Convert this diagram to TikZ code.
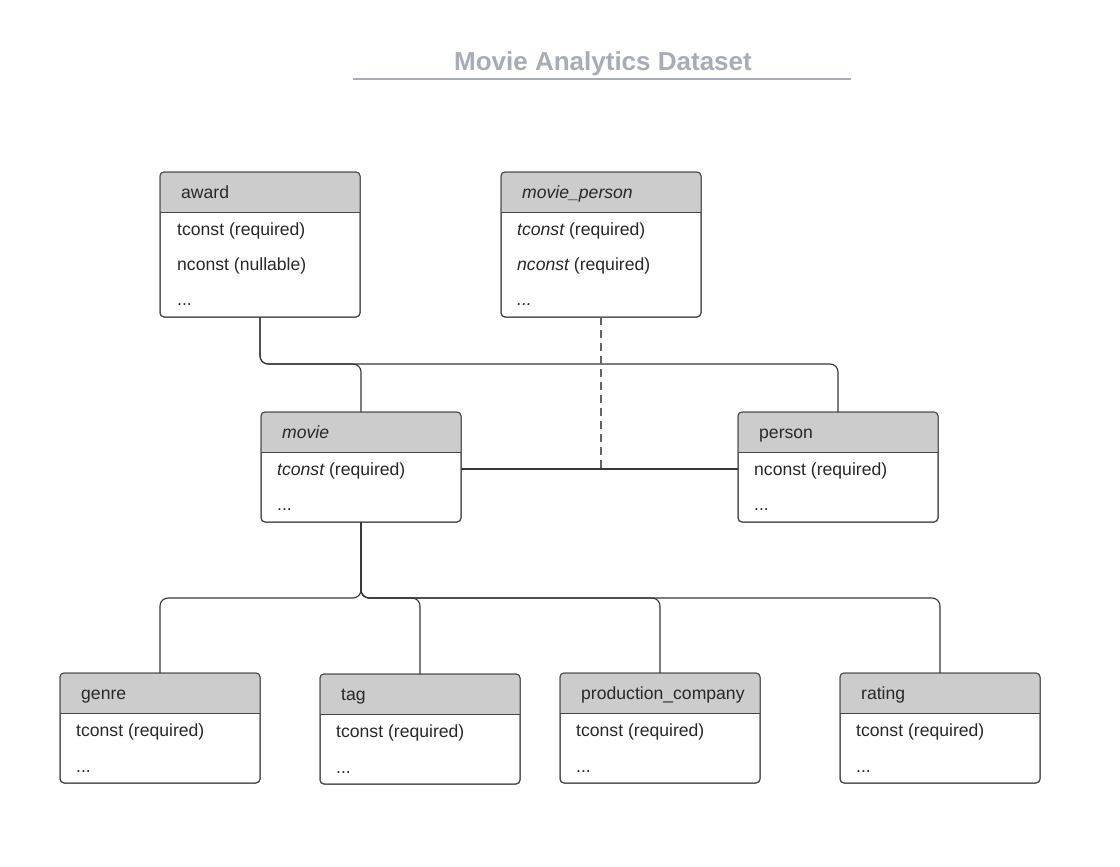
\documentclass[tikz,border=0pt]{standalone}
\usepackage{fontspec}
\setmainfont{Liberation Sans}
\begin{document}
\begin{tikzpicture}[x=1pt,y=-1pt,
  entbox/.style={draw=boxc, line width=1pt, fill=white, rounded corners=4pt, minimum width=200pt, inner sep=0pt, outer sep=0pt, anchor=north west},
  hdrfill/.style={fill=hdrc},
  sepline/.style={draw=boxc, line width=1pt},
  txt/.style={anchor=west, inner sep=0pt, yshift=-1.8pt, text height=13pt, text depth=4pt, text=txtc, font=\fontsize{17.6}{20}\selectfont},
  conn/.style={draw=connc, line width=1.1pt, rounded corners=8pt},
  dconn/.style={draw=dashc, line width=1.1pt, dash pattern=on 8pt off 5pt}
]
\definecolor{boxc}{RGB}{70,70,70}
\definecolor{hdrc}{RGB}{204,204,204}
\definecolor{txtc}{RGB}{40,40,40}
\definecolor{connc}{RGB}{55,55,55}
\definecolor{dashc}{RGB}{100,100,100}
\definecolor{titlec}{RGB}{168,173,181}
\useasboundingbox (0,0) rectangle (1120,867);
\fill[white] (0,0) rectangle (1120,867);

\newcommand\ent[5]{%
  \node[entbox, minimum height=#4pt] (#1) at (#2,#3) {};
  \fill[hdrfill] (#2,#3+40) {[rounded corners=4pt] -- (#2,#3) -- (#2+200,#3)} -- (#2+200,#3+40) -- cycle;
  \draw[boxc, line width=1pt, rounded corners=4pt] (#2,#3) rectangle (#2+200,#3+#4);
  \draw[sepline] (#2,#3+40) -- (#2+200,#3+40);
  \node[txt] (#1-h) at (#2+21,#3+20) {#5};
}

% title
\node[font=\fontsize{26}{30}\selectfont\bfseries, text=titlec, inner sep=0pt, text height=19pt, text depth=0pt] (title) at (603,61) {Movie Analytics Dataset};
\draw[titlec, line width=2pt] (353,79) -- (851,79);

% entities
\ent{award}{160}{172}{145}{award}
\node[txt] (award-r1) at (177,229) {tconst (required)};
\node[txt] (award-r2) at (177,264) {nconst (nullable)};
\node[txt] (award-r3) at (177,299) {...};

\ent{mp}{501}{172}{145}{\itshape movie\_person}
\node[txt] (mp-r1) at (517,229) {\itshape tconst\upshape{} (required)};
\node[txt] (mp-r2) at (517,264) {\itshape nconst\upshape{} (required)};
\node[txt] (mp-r3) at (517,299) {\itshape ...};

\ent{movie}{261}{412}{110}{\itshape movie}
\node[txt] (movie-r1) at (277,469) {\itshape tconst\upshape{} (required)};
\node[txt] (movie-r2) at (277,504) {...};

\ent{person}{738}{412}{110}{person}
\node[txt] (person-r1) at (754,469) {nconst (required)};
\node[txt] (person-r2) at (754,504) {...};

\ent{genre}{60}{673}{110}{genre}
\node[txt] (genre-r1) at (76,730) {tconst (required)};
\node[txt] (genre-r2) at (76,766) {...};

\ent{tag}{320}{674}{110}{tag}
\node[txt] (tag-r1) at (336,731) {tconst (required)};
\node[txt] (tag-r2) at (336,767) {...};

\ent{prod}{560}{673}{110}{production\_company}
\node[txt] (prod-r1) at (576,730) {tconst (required)};
\node[txt] (prod-r2) at (576,766) {...};

\ent{rating}{840}{673}{110}{rating}
\node[txt] (rating-r1) at (856,730) {tconst (required)};
\node[txt] (rating-r2) at (856,766) {...};

% connectors
\draw[conn] (award.south) -- ++(0,47) -| (movie.north);
\draw[conn] (award.south) -- ++(0,47) -| (person.north);
\draw[conn] (movie.east |- 0,469) -- (person.west |- 0,469);
\draw[dconn] (mp.south) -- (mp.south |- 0,469);
\draw[conn] (movie.south) -- ++(0,76) -| (genre.north);
\draw[conn] (movie.south) -- ++(0,76) -| (tag.north);
\draw[conn] (movie.south) -- ++(0,76) -| (prod.north);
\draw[conn] (movie.south) -- ++(0,76) -| (rating.north);
\end{tikzpicture}
\end{document}
